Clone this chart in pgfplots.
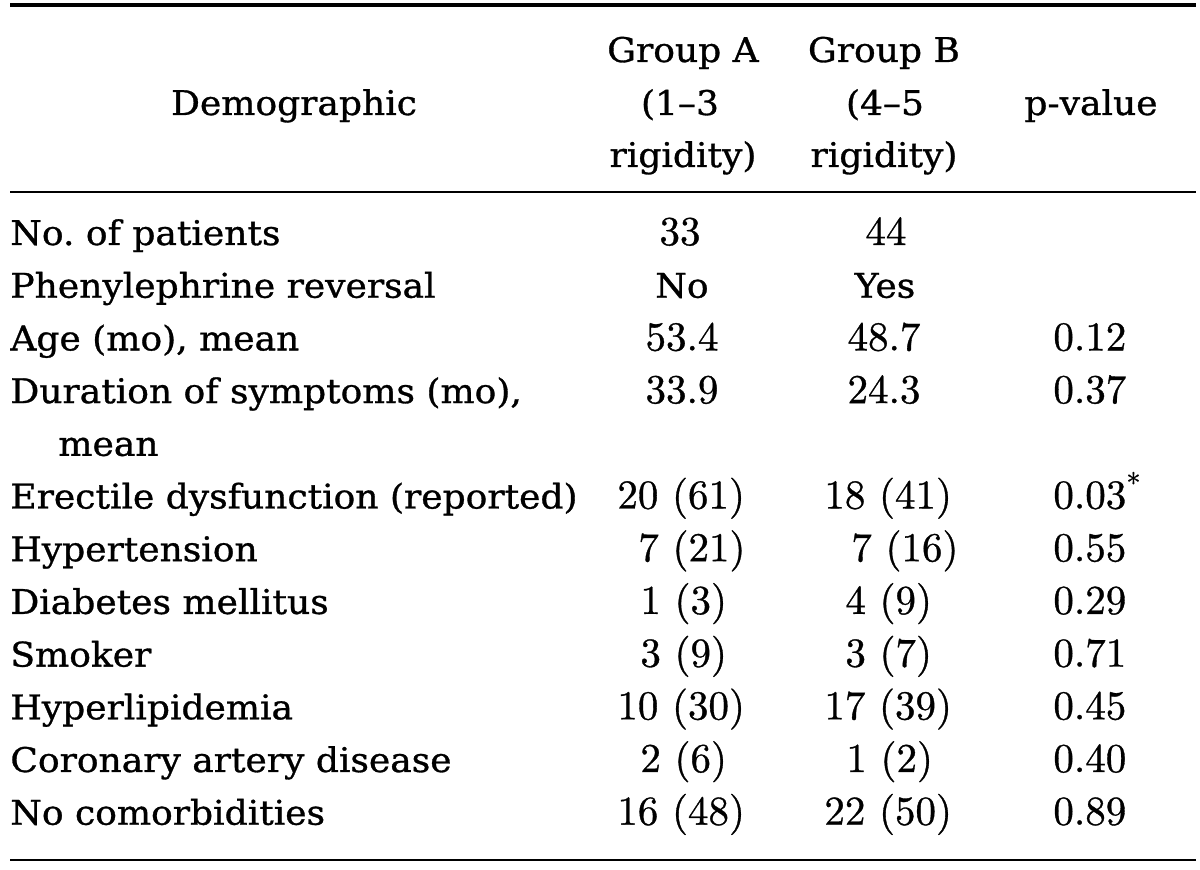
\documentclass[border=0pt]{standalone}
\usepackage{fontspec}
\usepackage{pgfplots}
\pgfplotsset{compat=1.18}
\frenchspacing
\newfontfamily\csb[FakeStretch=1.06,FakeBold=0.9]{DejaVu Serif}
\newfontfamily\lmnum[FakeBold=0.8]{lmroman10-regular.otf}
\newcommand\T{\frenchspacing\csb\fontsize{17}{20}\selectfont}
\newcommand\N{\lmnum\fontsize{20.5}{24}\selectfont}
\tikzset{
  tl/.style={inner sep=0pt, anchor=base west, font=\T},
  tc/.style={inner sep=0pt, anchor=base, font=\T},
  nl/.style={inner sep=0pt, anchor=base west, font=\N},
  nc/.style={inner sep=0pt, anchor=base, font=\N},
}
\begin{document}
\begin{tikzpicture}
\begin{axis}[width=600pt,height=435pt,scale only axis,
  xmin=0,xmax=1200,ymin=0,ymax=870,y dir=reverse,
  axis lines=none,clip=false]
\addplot[draw=none] coordinates {(0,0) (1200,870)};
% rules
\draw[line width=2pt] (axis cs:10,5) -- (axis cs:1196,5);
\draw[line width=1pt] (axis cs:10,192) -- (axis cs:1196,192);
\draw[line width=1pt] (axis cs:10,860) -- (axis cs:1196,860);
% header
\node[tc] at (axis cs:294,115) {Demographic};
\node[tc] at (axis cs:683,62) {Group A};
\node[tc] at (axis cs:680,115) {(1–3};
\node[tc] at (axis cs:683,167) {rigidity)};
\node[tc] at (axis cs:884,62) {Group B};
\node[tc] at (axis cs:885,115) {(4–5};
\node[tc] at (axis cs:884,167) {rigidity)};
\node[tc] at (axis cs:1091,115) {p-value};
% row labels
\node[tl] at (axis cs:10,245) {No. of patients};
\node[tl] at (axis cs:10,297.7) {Phenylephrine reversal};
\node[tl] at (axis cs:10,350.4) {Age (mo), mean};
\node[tl] at (axis cs:10,403.1) {Duration of symptoms (mo),};
\node[tl] at (axis cs:58,455.8) {mean};
\node[tl] at (axis cs:10,508.5) {Erectile dysfunction (reported)};
\node[tl] at (axis cs:10,561.2) {Hypertension};
\node[tl] at (axis cs:10,613.9) {Diabetes mellitus};
\node[tl] at (axis cs:10,666.6) {Smoker};
\node[tl] at (axis cs:10,719.3) {Hyperlipidemia};
\node[tl] at (axis cs:10,772) {Coronary artery disease};
\node[tl] at (axis cs:10,824.7) {No comorbidities};
% Group A
\node[nc] at (axis cs:680,245) {33};
\node[tc] at (axis cs:682,297.7) {No};
\node[nc] at (axis cs:682,350.4) {53.4};
\node[nc] at (axis cs:682,403.1) {33.9};
\node[nl] at (axis cs:617,508.5) {20 (61)};
\node[nl] at (axis cs:638,561.2) {7 (21)};
\node[nl] at (axis cs:640,613.9) {1 (3)};
\node[nl] at (axis cs:640,666.6) {3 (9)};
\node[nl] at (axis cs:617,719.3) {10 (30)};
\node[nl] at (axis cs:640,772) {2 (6)};
\node[nl] at (axis cs:617,824.7) {16 (48)};
% Group B
\node[nc] at (axis cs:886,245) {44};
\node[tc] at (axis cs:885,297.7) {Yes};
\node[nc] at (axis cs:884,350.4) {48.7};
\node[nc] at (axis cs:884,403.1) {24.3};
\node[nl] at (axis cs:824,508.5) {18 (41)};
\node[nl] at (axis cs:851,561.2) {7 (16)};
\node[nl] at (axis cs:845,613.9) {4 (9)};
\node[nl] at (axis cs:845,666.6) {3 (7)};
\node[nl] at (axis cs:824,719.3) {17 (39)};
\node[nl] at (axis cs:846,772) {1 (2)};
\node[nl] at (axis cs:824,824.7) {22 (50)};
% p-values
\node[nl] at (axis cs:1053,350.4) {0.12};
\node[nl] at (axis cs:1053,403.1) {0.37};
\node[nl] at (axis cs:1053,508.5) {0.03\textsuperscript{*}};
\node[nl] at (axis cs:1053,561.2) {0.55};
\node[nl] at (axis cs:1053,613.9) {0.29};
\node[nl] at (axis cs:1053,666.6) {0.71};
\node[nl] at (axis cs:1053,719.3) {0.45};
\node[nl] at (axis cs:1053,772) {0.40};
\node[nl] at (axis cs:1053,824.7) {0.89};
\end{axis}
\end{tikzpicture}
\end{document}
